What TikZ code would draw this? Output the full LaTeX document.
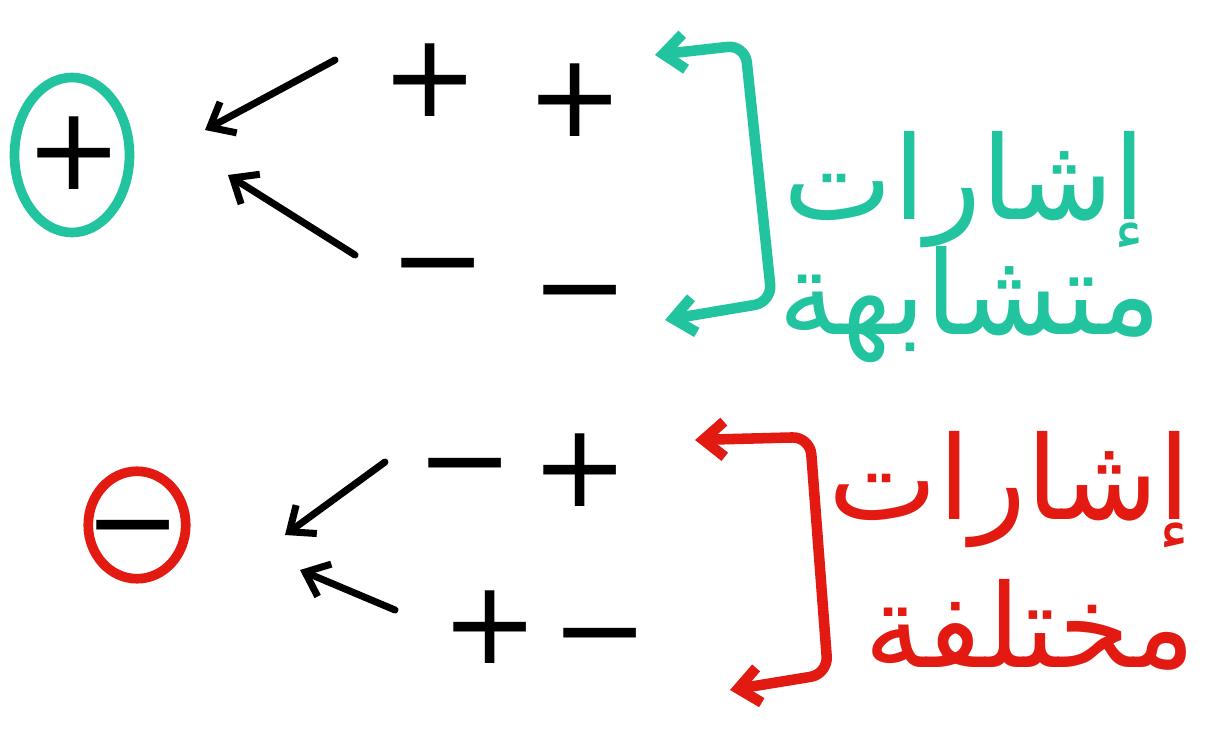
\documentclass[tikz,border=0pt]{standalone}
\usepackage{fontspec}
\usetikzlibrary{arrows.meta,positioning,shapes.geometric}
\TeXXeTstate=1
\newfontfamily\arabicfont[Script=Arabic]{DejaVu Sans}
\newfontfamily\signfont{DejaVu Sans}
\definecolor{penteal}{RGB}{34,196,160}
\definecolor{penred}{RGB}{226,26,18}

\begin{document}
\begin{tikzpicture}[x=0.02cm, y=-0.02cm, >={Straight Barb[length=12pt,width=20pt]}]
  \useasboundingbox (0,0) rectangle (1216,736);
  \tikzset{
    sign/.style={font=\signfont\fontsize{66}{66}\selectfont, inner sep=0pt, text height=47.3pt, text depth=0pt},
    ring/.style={draw, ellipse, line width=5.5pt, inner sep=0pt},
    blackarrow/.style={->, line width=4pt, line cap=round},
    bracket/.style={<->, line width=6pt, line cap=round, rounded corners=10pt},
    words/.style={font=\arabicfont\fontsize{66}{66}\selectfont, inner sep=0pt}
  }

  % same signs give plus
  \node[ring, penteal, minimum width=2.3cm, minimum height=3.1cm] (plusres) at (72,155) {};
  \node[sign] (plussign) at (74,148) {+};
  \node[sign] (pp1) at (430,75) {+};
  \node[sign] (pp2) at (575,95) {+};
  \node[sign] (mm1) at (438,258) {−};
  \node[sign] (mm2) at (580,285) {−};
  \coordinate (topin1) at (335,60);
  \coordinate (topout1) at (205,130);
  \coordinate (topin2) at (355,255);
  \coordinate (topout2) at (228,175);
  \draw[blackarrow] (topin1) -- (topout1);
  \draw[blackarrow] (topin2) -- (topout2);

  \coordinate (tealtop) at (655,55);
  \coordinate (tealc1) at (745,45);
  \coordinate (tealc2) at (772,302);
  \coordinate (tealbot) at (665,320);
  \draw[bracket, penteal] (tealtop) -- (tealc1) -- (tealc2) -- (tealbot);
  \node[words, text=penteal] (simline1) at (965,190) {\beginR إشارات\endR};
  \node[words, text=penteal] (simline2) at (970,305) {\beginR متشابهة\endR};

  % different signs give minus
  \node[ring, penred, minimum width=1.95cm, minimum height=2.15cm] (minusres) at (137,525) {};
  \node[sign] (minussign) at (133,520) {−};
  \node[sign] (mp1) at (465,458) {−};
  \node[sign] (mp2) at (580,465) {+};
  \node[sign] (pm1) at (490,622) {+};
  \node[sign] (pm2) at (600,628) {−};
  \coordinate (botin1) at (385,462);
  \coordinate (botout1) at (285,535);
  \coordinate (botin2) at (395,610);
  \coordinate (botout2) at (300,570);
  \draw[blackarrow] (botin1) -- (botout1);
  \draw[blackarrow] (botin2) -- (botout2);

  \coordinate (redtop) at (695,440);
  \coordinate (redc1) at (810,437);
  \coordinate (redc2) at (828,674);
  \coordinate (redbot) at (730,690);
  \draw[bracket, penred] (redtop) -- (redc1) -- (redc2) -- (redbot);
  \node[words, text=penred] (difline1) at (1010,490) {\beginR إشارات\endR};
  \node[words, text=penred] (difline2) at (1030,625) {\beginR مختلفة\endR};
\end{tikzpicture}
\end{document}
